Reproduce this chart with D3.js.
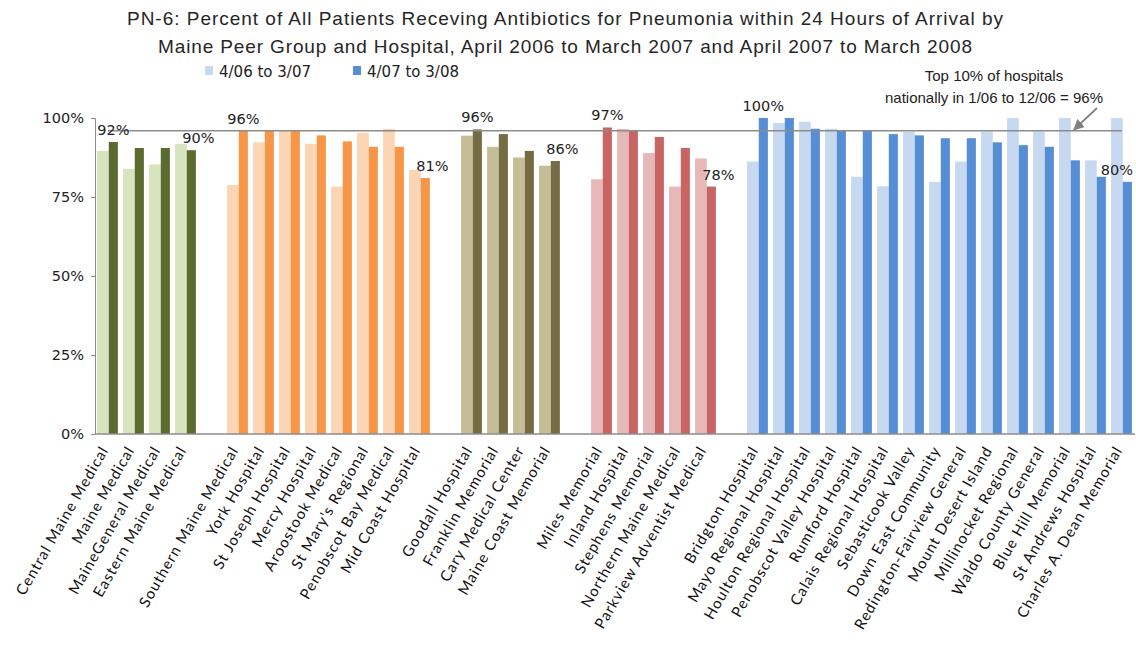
<!DOCTYPE html>
<html>
<head>
<meta charset="utf-8">
<script src="https://cdn.jsdelivr.net/npm/d3@7"></script>
<style>
  body { margin: 0; background: #fff; }
  svg { display: block; }
</style>
</head>
<body>
<svg id="chart" width="1136" height="651"></svg>
<script>
// hospitals, in chart order, grouped by Maine peer group
const hospitals = [
  "Central Maine Medical", "Maine Medical", "MaineGeneral Medical", "Eastern Maine Medical",
  "Southern Maine Medical", "York Hospital", "St Joseph Hospital", "Mercy Hospital",
  "Aroostook Medical", "St Mary's Regional", "Penobscot Bay Medical", "Mid Coast Hospital",
  "Goodall Hospital", "Franklin Memorial", "Cary Medical Center", "Maine Coast Memorial",
  "Miles Memorial", "Inland Hospital", "Stephens Memorial", "Northern Maine Medical", "Parkview Adventist Medical",
  "Bridgton Hospital", "Mayo Regional Hospital", "Houlton Regional Hospital", "Penobscot Valley Hospital",
  "Rumford Hospital", "Calais Regional Hospital", "Sebasticook Valley", "Down East Community",
  "Redington-Fairview General", "Mount Desert Island", "Millinocket Regional", "Waldo County General",
  "Blue Hill Memorial", "St Andrews Hospital", "Charles A. Dean Memorial"
];
const peerGroup = [
  0, 0, 0, 0,
  1, 1, 1, 1, 1, 1, 1, 1,
  2, 2, 2, 2,
  3, 3, 3, 3, 3,
  4, 4, 4, 4, 4, 4, 4, 4, 4, 4, 4, 4, 4, 4, 4
];
const series = ["4/06 to 3/07", "4/07 to 3/08"];
const rate0607 = [
  89.6, 83.9, 85.3, 91.8,
  78.8, 92.3, 96.0, 91.8, 78.3, 95.3, 96.5, 83.6,
  94.4, 90.9, 87.5, 84.9,
  80.6, 96.5, 88.9, 78.3, 87.2,
  86.2, 98.4, 98.8, 96.6, 81.4, 78.4, 95.6, 79.8, 86.2, 95.7, 100, 95.7, 100, 86.6, 100
];
const rate0708 = [
  92.4, 90.5, 90.5, 89.8,
  96.0, 96.0, 96.0, 94.5, 92.6, 90.9, 90.9, 81.0,
  96.4, 94.9, 89.6, 86.4,
  97.0, 96.0, 94.0, 90.5, 78.3,
  100, 100, 96.6, 96.2, 96.2, 94.9, 94.5, 93.6, 93.6, 92.3, 91.4, 90.9, 86.6, 81.4, 79.8
];
const benchmark = 96;
const yTicks = [0, 25, 50, 75, 100];
const titleLines = [
  "PN-6:  Percent of All Patients Receving Antibiotics for Pneumonia within 24 Hours of Arrival by",
  "Maine Peer Group and Hospital, April 2006 to March 2007 and April 2007 to March 2008"
];
const noteLines = ["Top 10% of hospitals", "nationally in 1/06 to 12/06 = 96%"];

// colours per peer group: [light, dark]
const lightColors = ["#d7e4bd", "#fcd5b5", "#c4bd97", "#e6b9b8", "#c6d9f1"];
const darkColors  = ["#5b6b30", "#f79646", "#756c44", "#c86461", "#558ed5"];

const svg = d3.select("#chart");
const plotLeft = 95, plotRight = 1135, plotTop = 118, plotBottom = 434;

// category slots, with an empty slot between peer groups
const slots = [];
hospitals.forEach((h, i) => {
  if (i > 0 && peerGroup[i] !== peerGroup[i - 1]) slots.push("gap" + peerGroup[i]);
  slots.push(h);
});

const x = d3.scaleBand().domain(slots).range([plotLeft, plotRight]).padding(0);
const y = d3.scaleLinear().domain([0, 100]).range([plotBottom, plotTop]);
const bw = x.bandwidth();

const rows = hospitals.map((h, i) => ({ name: h, g: peerGroup[i], a: rate0607[i], b: rate0708[i], i }));

// title
svg.append("g").selectAll("text")
  .data(titleLines)
  .join("text")
    .attr("x", 565)
    .attr("y", (d, i) => 25 + i * 28)
    .attr("text-anchor", "middle")
    .attr("font-family", "'Liberation Sans Narrow', 'Liberation Sans', Arial, sans-serif")
    .attr("font-size", 19)
    .attr("fill", "#262626")
    .attr("textLength", (d, i) => i === 0 ? 876 : 814)
    .attr("lengthAdjust", "spacing")
    .text(d => d);

// legend
const legend = svg.append("g").attr("font-family", "'DejaVu Sans', Verdana, sans-serif").attr("font-size", 15);
series.forEach((s, i) => {
  const lx = 205 + i * 148;
  legend.append("rect").attr("x", lx).attr("y", 66).attr("width", 8).attr("height", 9)
    .attr("fill", i === 0 ? lightColors[4] : darkColors[4]);
  legend.append("text").attr("x", lx + 14).attr("y", 77).attr("fill", "#222").text(s);
});

// y axis
const yAxis = d3.axisLeft(y).tickValues(yTicks).tickFormat(d => d + "%").tickSize(4).tickPadding(7);
const ya = svg.append("g").attr("transform", `translate(${plotLeft},0)`).call(yAxis);
ya.select(".domain").attr("stroke", "#8c8c8c");
ya.selectAll(".tick line").attr("stroke", "#8c8c8c");
ya.selectAll(".tick text")
  .attr("font-family", "'DejaVu Sans', Verdana, sans-serif")
  .attr("font-size", 14.5)
  .attr("fill", "#222");

// bars
const bars = svg.append("g");
bars.selectAll("rect.a")
  .data(rows)
  .join("rect")
    .attr("class", "a")
    .attr("x", d => x(d.name) + bw * 0.08)
    .attr("width", bw * 0.45)
    .attr("y", d => y(d.a))
    .attr("height", d => y(0) - y(d.a))
    .attr("fill", d => lightColors[d.g]);
bars.selectAll("rect.b")
  .data(rows)
  .join("rect")
    .attr("class", "b")
    .attr("x", d => x(d.name) + bw * 0.53)
    .attr("width", bw * 0.35)
    .attr("y", d => y(d.b))
    .attr("height", d => y(0) - y(d.b))
    .attr("fill", d => darkColors[d.g]);

// x axis line
svg.append("line")
  .attr("x1", plotLeft).attr("x2", plotRight)
  .attr("y1", y(0)).attr("y2", y(0))
  .attr("stroke", "#8c8c8c").attr("stroke-width", 1.5);

// benchmark line across category centres
svg.append("line")
  .attr("x1", x(slots[0]) + bw / 2)
  .attr("x2", x(slots[slots.length - 1]) + bw / 2)
  .attr("y1", y(benchmark)).attr("y2", y(benchmark))
  .attr("stroke", "#8c8c8c").attr("stroke-width", 1.5);

// data labels on first and last hospital of each peer group
const labelled = rows.filter((d, i) => i === 0 || i === rows.length - 1 ||
  peerGroup[i] !== peerGroup[i - 1] || peerGroup[i] !== peerGroup[i + 1]);
svg.append("g").selectAll("text")
  .data(labelled)
  .join("text")
    .attr("font-family", "'DejaVu Sans', Verdana, sans-serif")
    .attr("font-size", 14.5)
    .attr("fill", "#222")
    .attr("y", d => y(d.b) - 7)
    .text(d => Math.round(d.b) + "%")
    .each(function(d) {
      const t = d3.select(this);
      const cx = x(d.name) + bw * 0.53 + bw * 0.175;
      const first = d.i === 0 || peerGroup[d.i] !== peerGroup[d.i - 1];
      if (first) {
        t.attr("x", cx).attr("text-anchor", "middle");
      } else {
        const w = this.getComputedTextLength();
        t.attr("x", Math.min(cx - 9, plotRight - 2 - w)).attr("text-anchor", "start");
      }
    });

// annotation
svg.append("g").selectAll("text")
  .data(noteLines)
  .join("text")
    .attr("x", 994)
    .attr("y", (d, i) => 81 + i * 22)
    .attr("text-anchor", "middle")
    .attr("font-family", "'Liberation Sans', Arial, sans-serif")
    .attr("font-size", 15)
    .attr("fill", "#222")
    .text(d => d);

svg.append("defs").append("marker")
  .attr("id", "arrow")
  .attr("viewBox", "0 0 10 10")
  .attr("refX", 9).attr("refY", 5)
  .attr("markerWidth", 6).attr("markerHeight", 6)
  .attr("orient", "auto")
  .append("path")
    .attr("d", "M0,0 L10,5 L0,10 Z")
    .attr("fill", "#808080");
svg.append("line")
  .attr("x1", 1097).attr("y1", 108)
  .attr("x2", 1074).attr("y2", y(benchmark) - 1)
  .attr("stroke", "#808080").attr("stroke-width", 1.8)
  .attr("marker-end", "url(#arrow)");

// x labels, rotated
svg.append("g").selectAll("text")
  .data(rows)
  .join("text")
    .attr("transform", d => `translate(${x(d.name) + bw / 2 + 1},${plotBottom + 16}) rotate(-60)`)
    .attr("text-anchor", "end")
    .attr("font-family", "Lato, 'Open Sans', sans-serif")
    .attr("font-size", 15)
    .attr("letter-spacing", 1)
    .attr("fill", "#111")
    .text(d => d.name);
</script>
</body>
</html>
